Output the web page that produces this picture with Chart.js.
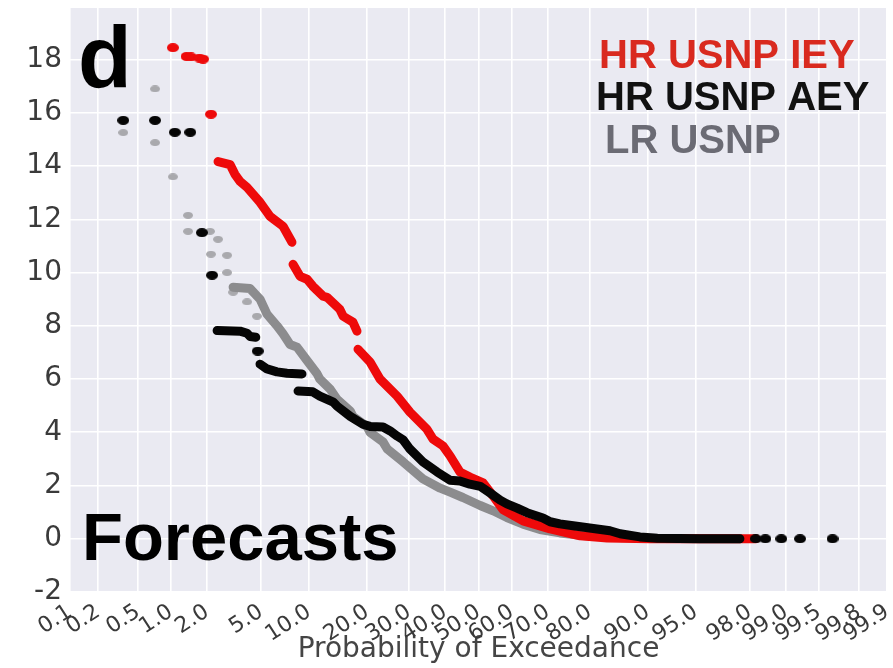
<!DOCTYPE html>
<html>
<head>
<meta charset="utf-8">
<title>Probability of Exceedance - Forecasts</title>
<script src="https://cdn.jsdelivr.net/npm/chart.js@4/dist/chart.umd.min.js"></script>
<style>
  html,body{margin:0;padding:0;background:#fff;}
  #wrap{width:893px;height:668px;}
</style>
</head>
<body>
<div id="wrap"><canvas id="c" width="893" height="668"></canvas></div>
<script>
// x = probability of exceedance (%), y = value
const xTicks = [0.1,0.2,0.5,1,2,5,10,20,30,40,50,60,70,80,90,95,98,99,99.5,99.8,99.9];

// HR USNP IEY (red)
const redDotP = [1.04, 1.36, 1.48, 1.74, 1.86, 2.15];
const redDotV = [18.45, 18.12, 18.10, 18.06, 18.02, 15.95];
const redLineP = [2.44, 3.01, 3.27, 3.56, 4.00, 4.92, 5.74, 6.96, 7.91, null,
  8.03, 8.85, 9.73, 10.5, 12.0, 12.6, 14.7, 15.3, 17.1, 17.9, null,
  18.1, 20.6, 22.8, 26.9, 30.2, 34.8, 36.5, 39.4, 41.5, 44.4, 47.4, 51.4, 54.4, 57.3,
  63.2, 70.6, 77.9, 83.5, 90.3, 98.2];
const redLineV = [14.17, 14.06, 13.69, 13.43, 13.2, 12.64, 12.11, 11.74, 11.14, null,
  10.31, 9.86, 9.75, 9.49, 9.11, 9.07, 8.62, 8.36, 8.14, 7.8, null,
  7.12, 6.64, 6.0, 5.36, 4.76, 4.12, 3.75, 3.49, 3.11, 2.51, 2.32, 2.1, 1.61, 1.1,
  0.67, 0.37, 0.11, 0.03, 0.0, 0.0];

// HR USNP AEY (black)
const blackDotP = [0.36, 0.72, 1.08, 1.46, 1.82, 2.19, 4.75, 98.2, 98.5, 98.9, 99.25, 99.63];
const blackDotV = [15.72, 15.72, 15.27, 15.27, 11.5, 9.9, 7.05, 0.0, 0.0, 0.0, 0.0, 0.0];
const blackLineP = [2.40, 3.56, 4.00, 4.20, 4.60, null,
  4.92, 5.48, 6.37, 7.37, 9.09, null,
  8.61, 10.5, 11.5, 13.6, 14.2, 16.6, 19.1, 20.6, 23.5, 25.2, 26.9, 28.4, 30.2, 33.7,
  37.7, 41.5, 44.4, 47.4, 50.5, 53.5, 56.5, 58.5, 61.5, 64.3, 68.7, 70.6, 73.1, 76.3,
  81.5, 84.0, 85.8, 88.9, 91.2, 95.3, 97.6];
const blackLineV = [7.82, 7.80, 7.72, 7.60, 7.57, null,
  6.56, 6.38, 6.27, 6.22, 6.19, null,
  5.55, 5.52, 5.36, 5.13, 4.99, 4.6, 4.3, 4.22, 4.2, 4.05, 3.86, 3.72, 3.37, 2.89,
  2.51, 2.2, 2.17, 2.05, 1.97, 1.72, 1.45, 1.31, 1.15, 0.98, 0.78, 0.64, 0.56, 0.49,
  0.37, 0.3, 0.19, 0.07, 0.02, 0.0, 0.0];

// LR USNP (grey)
const greyDotP = [0.36, 0.72, 0.72, 1.04, 1.40, 1.40, 2.11, 2.44, 2.15, 2.86, 2.86, 3.17, 4.00, 4.69];
const greyDotV = [15.26, 16.9, 14.88, 13.6, 12.15, 11.55, 11.55, 11.25, 10.69, 10.65, 10.0, 9.26, 8.9, 8.36];
const greyLineP = [3.17, 4.20, 4.92, 5.48, 6.37, 6.96, 7.70, 8.49, 9.73, 11.1, 11.5, 13.1, 14.2,
  16.6, 17.1, 20.0, 20.6, 23.5, 24.5, 28.4, 33.7, 38.6, 41.5, 45.3, 50.5, 54.4, 58.5,
  63.2, 67.9, 73.1, 78.5, 85.3, 91.2, 97.6];
const greyLineV = [9.45, 9.4, 9.0, 8.44, 8.0, 7.7, 7.3, 7.2, 6.7, 6.2, 6.0, 5.62, 5.25,
  4.8, 4.6, 4.2, 4.0, 3.64, 3.37, 2.89, 2.25, 1.9, 1.75, 1.55, 1.25, 1.05, 0.8,
  0.55, 0.35, 0.22, 0.12, 0.05, 0.01, 0.0];

const legendItems = [
  {text: "HR USNP IEY", color: "#d92a1f"},
  {text: "HR USNP AEY", color: "#111111"},
  {text: "LR USNP", color: "#6b6b74"}
];

// inverse normal cdf (Acklam)
function probit(p){
  const a=[-3.969683028665376e+01,2.209460984245205e+02,-2.759285104469687e+02,1.383577518672690e+02,-3.066479806614716e+01,2.506628277459239e+00];
  const b=[-5.447609879822406e+01,1.615858368580409e+02,-1.556989798598866e+02,6.680131188771972e+01,-1.328068155288572e+01];
  const c=[-7.784894002430293e-03,-3.223964580411365e-01,-2.400758277161838e+00,-2.549732539343734e+00,4.374664141464968e+00,2.938163982698783e+00];
  const d=[7.784695709041462e-03,3.224671290700398e-01,2.445134137142996e+00,3.754408661907416e+00];
  const pl=0.02425;
  let q,r;
  if (p < pl){
    q=Math.sqrt(-2*Math.log(p));
    return (((((c[0]*q+c[1])*q+c[2])*q+c[3])*q+c[4])*q+c[5])/((((d[0]*q+d[1])*q+d[2])*q+d[3])*q+1);
  }
  if (p <= 1-pl){
    q=p-0.5; r=q*q;
    return (((((a[0]*r+a[1])*r+a[2])*r+a[3])*r+a[4])*r+a[5])*q/(((((b[0]*r+b[1])*r+b[2])*r+b[3])*r+b[4])*r+1);
  }
  q=Math.sqrt(-2*Math.log(1-p));
  return -(((((c[0]*q+c[1])*q+c[2])*q+c[3])*q+c[4])*q+c[5])/((((d[0]*q+d[1])*q+d[2])*q+d[3])*q+1);
}
function normcdf(z){
  // bisection on probit, good enough for hover lookups
  let lo=1e-9, hi=1-1e-9;
  for (let i=0;i<60;i++){ const m=(lo+hi)/2; if (probit(m) < z) lo=m; else hi=m; }
  return (lo+hi)/2;
}

// normal probability axis
class ProbabilityScale extends Chart.Scale {
  static id = "probability";
  static defaults = {};
  determineDataLimits(){
    this.min = this.options.min ?? 0.1;
    this.max = this.options.max ?? 99.9;
  }
  buildTicks(){
    return xTicks.filter(v=>v>=this.min && v<=this.max).map(v=>({value:v}));
  }
  getLabelForValue(v){ return v.toFixed(1); }
  configure(){
    super.configure();
    this._zMin = probit(this.min/100);
    this._zMax = probit(this.max/100);
  }
  getPixelForValue(v){
    if (v == null || !isFinite(v)) return NaN;
    const z = probit(v/100);
    return this.getPixelForDecimal((z - this._zMin)/(this._zMax - this._zMin));
  }
  getValueForPixel(px){
    const z = this._zMin + this.getDecimalForPixel(px)*(this._zMax - this._zMin);
    return 100*normcdf(z);
  }
}
Chart.register(ProbabilityScale);

function blob(color, w, h){
  const c = document.createElement("canvas");
  c.width = w; c.height = h;
  const g = c.getContext("2d");
  g.fillStyle = color;
  g.beginPath();
  g.ellipse(w/2, h/2, w/2, h/2, 0, 0, Math.PI*2);
  g.fill();
  return c;
}
const pts = (P, V)=> P.map((p,i)=>({x:p, y:V[i]}));

const RED = "#ee0a0a", BLACK = "#050505", GREY = "#8c8c8e", GREY_LT = "#a9a9ad";

const plotBg = {
  id: "plotBg",
  beforeDraw(chart){
    const {ctx, chartArea:a} = chart;
    ctx.save();
    ctx.fillStyle = "#eaeaf2";
    ctx.fillRect(a.left, a.top, a.right-a.left, a.bottom-a.top);
    ctx.restore();
  }
};

const annot = {
  id: "annot",
  afterDatasetsDraw(chart){
    const {ctx, chartArea:a} = chart;
    ctx.save();
    ctx.textAlign = "left";
    ctx.textBaseline = "alphabetic";
    ctx.fillStyle = "#000";
    ctx.font = "bold 88px 'Liberation Sans', Arial, sans-serif";
    ctx.fillText("d", a.left + 8, a.top + 79);
    ctx.font = "bold 67px 'Liberation Sans', Arial, sans-serif";
    ctx.fillText("Forecasts", a.left + 12, a.top + 552);
    ctx.font = "bold 40px 'Liberation Sans', Arial, sans-serif";
    const lx = [a.left + 529, a.left + 526, a.left + 535];
    const ly = [a.top + 60, a.top + 102, a.top + 145];
    legendItems.forEach((it, i)=>{
      ctx.fillStyle = it.color;
      ctx.fillText(it.text, lx[i], ly[i]);
    });
    ctx.restore();
  }
};

const lineDs = (label, P, V, color, order)=>({
  label, data: pts(P, V), showLine: true, spanGaps: false,
  borderColor: color, borderWidth: 9, borderCapStyle: "round", borderJoinStyle: "round",
  pointRadius: 0, order
});
const dotDs = (label, P, V, img, order)=>({
  label, data: pts(P, V), showLine: false,
  pointStyle: img, pointRadius: 4, order
});

new Chart(document.getElementById("c"), {
  type: "scatter",
  data: {
    datasets: [
      dotDs("HR USNP AEY", blackDotP, blackDotV, blob(BLACK, 12, 9), 0),
      lineDs("HR USNP AEY", blackLineP, blackLineV, BLACK, 1),
      dotDs("HR USNP IEY", redDotP, redDotV, blob(RED, 12, 9), 2),
      lineDs("HR USNP IEY", redLineP, redLineV, RED, 3),
      lineDs("LR USNP", greyLineP, greyLineV, GREY, 4),
      dotDs("LR USNP", greyDotP, greyDotV, blob(GREY_LT, 10, 7), 5)
    ]
  },
  options: {
    responsive: false,
    animation: false,
    events: [],
    layout: {padding: {top: 8, right: 6, left: 0, bottom: 0}},
    plugins: {legend: {display: false}, tooltip: {enabled: false}},
    scales: {
      x: {
        type: "probability", position: "bottom", min: 0.1, max: 99.9,
        grid: {color: "#ffffff", lineWidth: 1.6, drawTicks: false},
        border: {display: false},
        ticks: {
          autoSkip: false, minRotation: 33, maxRotation: 33, padding: 7,
          color: "#3a3a3a", font: {family: "DejaVu Sans", size: 22},
          callback: (v)=> Number(v).toFixed(1)
        },
        title: {
          display: true, text: "Probability of Exceedance", color: "#454545",
          font: {family: "DejaVu Sans", size: 28}, padding: {top: 0, bottom: 1}
        },
        afterFit: (s)=>{ s.height = 76; s.paddingLeft = 0; s.paddingRight = 0; }
      },
      y: {
        min: -2, max: 19.94,
        grid: {color: "#ffffff", lineWidth: 1.6, drawTicks: false},
        border: {display: false},
        ticks: {
          stepSize: 2, includeBounds: false, padding: 8,
          color: "#3a3a3a", font: {family: "DejaVu Sans", size: 28}
        },
        afterFit: (s)=>{ s.width = 70; s.paddingTop = 0; s.paddingBottom = 0; }
      }
    }
  },
  plugins: [plotBg, annot]
});
</script>
</body>
</html>
